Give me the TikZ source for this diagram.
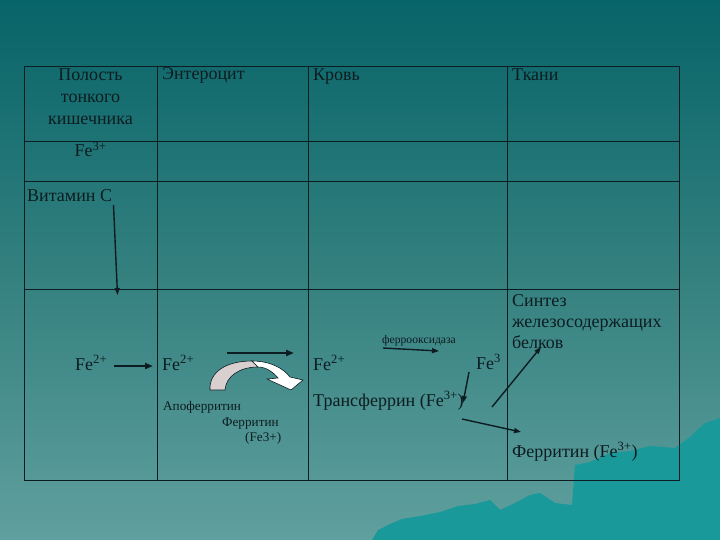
\documentclass[tikz,border=0pt]{standalone}
\usepackage{fontspec}
\setmainfont{Liberation Serif}
\usetikzlibrary{arrows.meta}
\definecolor{bgtop}{HTML}{076468}
\definecolor{bgmid}{HTML}{33807F}
\definecolor{bgbot}{HTML}{60A09E}
\definecolor{mount}{HTML}{1A999B}
\definecolor{ink}{HTML}{0C1C20}
\definecolor{greyarc}{HTML}{D9CFCF}
\tikzset{
  txt/.style={anchor=base west, inner sep=0pt, text=ink, font=\fontsize{18}{21}\selectfont},
  hdr/.style={txt, font=\fontsize{18}{21}\selectfont},
  small/.style={txt, font=\fontsize{13.2}{15}\selectfont},
  tiny/.style={txt, font=\fontsize{11.6}{13}\selectfont},
  grid/.style={draw=ink, line width=1pt},
  arr/.style={draw=ink, line width=1.4pt, -{Triangle[length=7pt,width=5pt]}},
  thickarr/.style={draw=ink, line width=2pt, -{Triangle[length=8pt,width=6pt]}},
}
\begin{document}
\begin{tikzpicture}[x=1pt,y=-1pt]
\useasboundingbox (0,0) rectangle (720,540);
% background
\shade[top color=bgtop, bottom color=bgbot, middle color=bgmid] (0,0) rectangle (720,540);
% mountain
\fill[mount] (372,540) -- (378,530) -- (390,524) -- (402,519) -- (420,516) -- (440,512) -- (458,506) -- (475,504) -- (490,500) -- (500,510) -- (515,503) -- (530,495) -- (540,493) -- (555,503) -- (572,505) -- (575,465) -- (590,462) -- (610,453) -- (630,451) -- (650,446) -- (675,448) -- (690,437) -- (705,423) -- (720,418) -- (720,540) -- cycle;
% table
\draw[grid] (24,67) rectangle (679,480);
\draw[grid] (157,67) -- (157,480);
\draw[grid] (308,67) -- (308,480);
\draw[grid] (507,67) -- (507,480);
\draw[grid] (24,142) -- (679,142);
\draw[grid] (24,182) -- (679,182);
\draw[grid] (24,289) -- (679,289);
% header
\node[hdr, anchor=base] (h1a) at (90.5,81) {Полость};
\node[hdr, anchor=base] (h1b) at (90.5,103) {тонкого};
\node[hdr, anchor=base] (h1c) at (90.5,125) {кишечника};
\node[hdr] (h2) at (162,80) {Энтероцит};
\node[hdr] (h3) at (313,81) {Кровь};
\node[hdr] (h4) at (512,81) {Ткани};
\node[hdr, anchor=base] (fe3) at (90.5,157) {Fe\textsuperscript{3+}};
\node[hdr] (vitc) at (27,202) {Витамин С};
% column 1
\node[txt] (fe2a) at (75,370) {Fe\textsuperscript{2+}};
% column 2
\node[txt] (fe2b) at (162,370) {Fe\textsuperscript{2+}};
\node[small] (apo) at (163,410) {Апоферритин};
\node[small] (ferr1) at (222,426) {Ферритин};
\node[small] (ferr1b) at (245,441) {(Fe3+)};
% column 3
\node[txt] (fe2c) at (313,370) {Fe\textsuperscript{2+}};
\node[tiny] (fox) at (382,343) {ферроокcидаза};
\node[txt] (fe3b) at (476,369) {Fe\textsuperscript{3}};
\node[txt] (trf) at (313,406) {Трансферрин (Fe\textsuperscript{3+})};
% column 4
\node[txt] (syn1) at (512,306) {Синтез};
\node[txt] (syn2) at (512,327) {железосодержащих};
\node[txt] (syn3) at (512,348) {белков};
\node[txt] (ferr2) at (512,457) {Ферритин (Fe\textsuperscript{3+})};
% arrow coordinates
\coordinate (va) at (113.5,205);
\coordinate (vb) at (117.5,295);
\coordinate (a1s) at (114,366);
\coordinate (a1e) at (153,366);
\coordinate (a2s) at (227,353);
\coordinate (a2e) at (294,353);
\coordinate (a3s) at (383,348);
\coordinate (a3e) at (439,351);
\coordinate (a4s) at (469,372);
\coordinate (a4e) at (463,403);
\coordinate (a5s) at (462,419);
\coordinate (a5e) at (521,432);
\coordinate (a6s) at (492,407);
\coordinate (a6e) at (541,347);
\draw[arr] (va) -- (vb);
\draw[thickarr] (a1s) -- (a1e);
\draw[thickarr] (a2s) -- (a2e);
\draw[arr] (a3s) -- (a3e);
\draw[arr] (a4s) -- (a4e);
\draw[arr] (a5s) -- (a5e);
\draw[arr] (a6s) -- (a6e);
% curved block arrow
\filldraw[fill=greyarc, draw=ink, line width=0.6pt] (210,390) .. controls (209,372) and (226,361) .. (252,361) -- (258,367) .. controls (240,367) and (226,376) .. (225,390) -- cycle;
\filldraw[fill=white, draw=ink, line width=0.6pt] (252,361) .. controls (270,361) and (283,368) .. (290,377) -- (303,380) -- (291,390) -- (267,379) -- (278,378) .. controls (273,372) and (266,367) .. (258,367) -- cycle;
\end{tikzpicture}
\end{document}
